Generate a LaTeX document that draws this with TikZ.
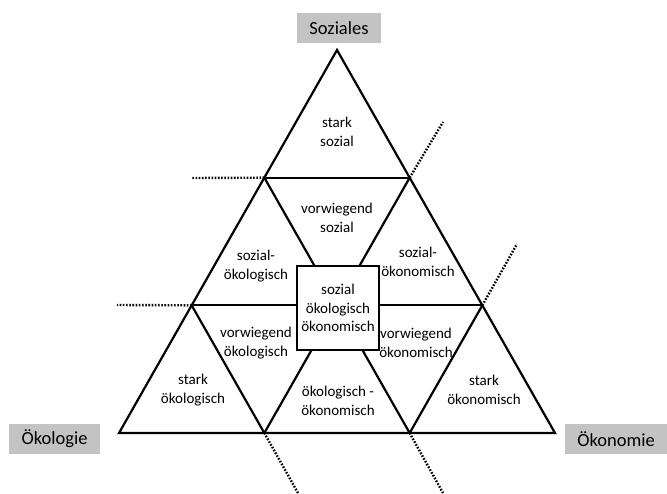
\documentclass[tikz,border=0pt]{standalone}
\usepackage{fontspec}
\setmainfont{Carlito}
\usetikzlibrary{calc}
\definecolor{labelgrey}{HTML}{C3C3C3}
\tikzset{
  edge/.style={line width=2.2pt, line join=miter},
  ext/.style={line width=2.4pt, dash pattern=on 1.6pt off 1.6pt},
  field/.style={align=center, font=\fontsize{15}{18.5}\selectfont, inner sep=0pt},
  pole/.style={fill=labelgrey, font=\fontsize{18.5}{22}\selectfont, inner sep=0pt, minimum height=30pt},
  core/.style={draw, fill=white, line width=2.2pt, align=center, font=\fontsize{15}{18.5}\selectfont,
    minimum width=82pt, minimum height=84pt, inner sep=0pt}
}
\begin{document}
\begin{tikzpicture}[x=1pt,y=-1pt]
\useasboundingbox (0,0) rectangle (667,493);

% corners of the big triangle
\coordinate (A) at (337,50);
\coordinate (B) at (119,433);
\coordinate (C) at (555,433);

% division points on the sides
\coordinate (ab1) at ($(A)!1/3!(B)$);
\coordinate (ab2) at ($(A)!2/3!(B)$);
\coordinate (ac1) at ($(A)!1/3!(C)$);
\coordinate (ac2) at ($(A)!2/3!(C)$);
\coordinate (bc1) at ($(B)!1/3!(C)$);
\coordinate (bc2) at ($(B)!2/3!(C)$);

% free ends of the dotted extensions
\coordinate (e1) at (192,178);
\coordinate (e2) at (117,305);
\coordinate (e3) at (443,122);
\coordinate (e4) at (517,244);
\coordinate (e5) at (298,493);
\coordinate (e6) at (443,493);

% dotted extensions
\draw[ext] (ab1) -- (e1);
\draw[ext] (ab2) -- (e2);
\draw[ext] (ac1) -- (e3);
\draw[ext] (ac2) -- (e4);
\draw[ext] (bc1) -- (e5);
\draw[ext] (bc2) -- (e6);

% inner grid
\draw[edge] (ab1) -- (ac1);
\draw[edge] (ab2) -- (ac2);
\draw[edge] (ab1) -- (bc2);
\draw[edge] (ac1) -- (bc1);
\draw[edge] (ab2) -- (bc1);
\draw[edge] (ac2) -- (bc2);

% outer triangle
\draw[edge] (A) -- (B) -- (C) -- cycle;

% central square
\node[core] (mid) at (338,308) {sozial\\ökologisch\\ökonomisch};

% field labels
\node[field] (f1) at (337,132) {stark\\sozial};
\node[field] (f2) at (337,218) {vorwiegend\\sozial};
\node[field] (f3) at (256,266) {sozial-\\ökologisch};
\node[field] (f4) at (418,262) {sozial-\\ökonomisch};
\node[field] (f5) at (256,343) {vorwiegend\\ökologisch};
\node[field] (f6) at (416,343) {vorwiegend\\ökonomisch};
\node[field] (f7) at (193,390) {stark\\ökologisch};
\node[field] (f8) at (338,401) {ökologisch -\\ökonomisch};
\node[field] (f9) at (484,390) {stark\\ökonomisch};

% pole labels
\node[pole, minimum width=84pt] (soz) at (339,28) {Soziales};
\node[pole, minimum width=91pt] (oeko) at (54.5,438.5) {Ökologie};
\node[pole, minimum width=102pt] (oekon) at (616,439) {Ökonomie};
\end{tikzpicture}
\end{document}
